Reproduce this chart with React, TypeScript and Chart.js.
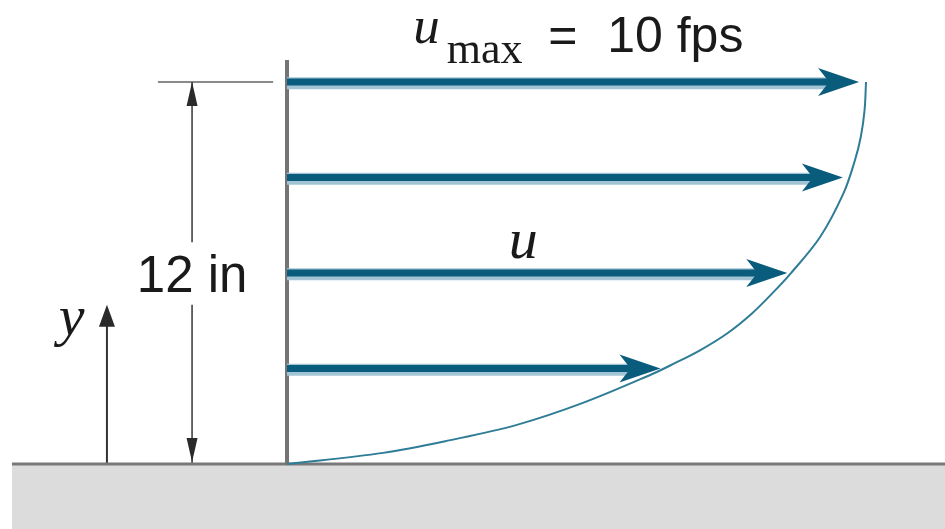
import React, { useEffect, useRef } from "react";
import { Chart, registerables } from "chart.js";

Chart.register(...registerables);

// Velocity profile u(y): height above the plate (in) and velocity (fps)
const PROFILE_Y = [0, 0.35, 0.75, 1.23, 1.92, 2.82, 3.16, 3.58, 4.1, 4.73, 5.36, 5.99, 7.14, 8.5, 9.55, 10.28, 11.12, 12];
const PROFILE_U = [0, 1.66, 2.82, 3.97, 5.11, 6.3, 6.69, 7.14, 7.6, 8.03, 8.38, 8.7, 9.21, 9.61, 9.81, 9.91, 9.975, 10];

// Velocity vectors drawn from the wall
const ARROW_Y = [3, 6, 9, 12];
const ARROW_U = [6.45, 8.64, 9.6, 9.88];

// Labels
const TITLE_SYMBOL = "u";
const TITLE_SUB = "max";
const TITLE_VALUE = "10 fps";
const DIM_LABEL = "12 in";
const PROFILE_LABEL = "u";
const Y_LABEL = "y";
const DEPTH = 12;

// View window (data units) and decoration placement (data units)
const VIEW = { uMin: -4.957, uMax: 11.364, yMin: -2.042, yMax: 14.578 };
const DECOR = {
  groundLeft: -4.75,
  wallTop: 12.69,
  dimU: -1.64,
  dimGapLow: 5.0,
  dimGapHigh: 6.97,
  dimLabelY: 5.4,
  extLeft: -2.23,
  extRight: -0.24,
  yArrowU: -3.11,
  yArrowTop: 5.0,
  yLabelU: -3.72,
  yLabelY: 4.05,
  uLabelU: 4.08,
  uLabelY: 6.47,
  titleU: 2.18,
  titleY: 13.23,
  subU: 2.76,
  subY: 12.6,
  eqU: 4.51,
  valU: 5.53,
  valY: 12.94,
};

const TEAL = "#0a5c7c";
const TEAL_LIGHT = "#a3c4d5";
const CURVE = "#2f7c96";

function head(
  ctx: CanvasRenderingContext2D,
  tx: number,
  ty: number,
  dx: number,
  dy: number,
  len: number,
  half: number,
  notch: number,
  color: string
) {
  const px = -dy;
  const py = dx;
  const bx = tx - dx * len;
  const by = ty - dy * len;
  ctx.beginPath();
  ctx.moveTo(tx, ty);
  ctx.lineTo(bx + px * half, by + py * half);
  ctx.lineTo(tx - dx * (len - notch), ty - dy * (len - notch));
  ctx.lineTo(bx - px * half, by - py * half);
  ctx.closePath();
  ctx.fillStyle = color;
  ctx.fill();
}

const decorPlugin = {
  id: "decor",
  beforeDatasetsDraw(chart: any) {
    const { ctx, chartArea, scales } = chart;
    const X = (v: number) => scales.x.getPixelForValue(v);
    const Y = (v: number) => scales.y.getPixelForValue(v);
    ctx.save();
    ctx.fillStyle = "#dcdcdc";
    const top = Y(0);
    const left = X(DECOR.groundLeft);
    ctx.fillRect(left, top, chartArea.right - left, chartArea.bottom - top);
    ctx.restore();
  },
  afterDatasetsDraw(chart: any) {
    const { ctx, scales } = chart;
    const X = (v: number) => scales.x.getPixelForValue(v);
    const Y = (v: number) => scales.y.getPixelForValue(v);
    ctx.save();
    // velocity arrowheads
    ARROW_Y.forEach((y, i) => {
      head(ctx, X(ARROW_U[i]), Y(y), 1, 0, 41, 14, 11, TEAL);
    });
    // dimension arrowheads
    head(ctx, X(DECOR.dimU), Y(DEPTH), 0, -1, 24, 5.5, 0, "#2a2a2a");
    head(ctx, X(DECOR.dimU), Y(0) - 2, 0, 1, 24, 5.5, 0, "#2a2a2a");
    head(ctx, X(DECOR.yArrowU), Y(DECOR.yArrowTop), 0, -1, 22, 8, 0, "#2a2a2a");

    // texts
    ctx.fillStyle = "#1a1a1a";
    ctx.textBaseline = "alphabetic";
    ctx.textAlign = "left";
    ctx.font = "italic 53px 'Liberation Serif', serif";
    ctx.fillText(TITLE_SYMBOL, X(DECOR.titleU), Y(DECOR.titleY));
    ctx.font = "44px 'Liberation Serif', serif";
    ctx.fillText(TITLE_SUB, X(DECOR.subU), Y(DECOR.subY));
    ctx.font = "50px 'Liberation Sans', Arial, sans-serif";
    ctx.fillText("=", X(DECOR.eqU), Y(DECOR.valY));
    ctx.fillText(TITLE_VALUE, X(DECOR.valU), Y(DECOR.valY));

    ctx.textAlign = "center";
    ctx.font = "51px 'Liberation Sans', Arial, sans-serif";
    ctx.fillText(DIM_LABEL, X(DECOR.dimU), Y(DECOR.dimLabelY));
    ctx.font = "italic 58px 'Liberation Serif', serif";
    ctx.fillText(PROFILE_LABEL, X(DECOR.uLabelU), Y(DECOR.uLabelY));
    ctx.fillText(Y_LABEL, X(DECOR.yLabelU), Y(DECOR.yLabelY));
    ctx.restore();
  },
};

function seg(data: { x: number; y: number }[], color: string, width: number, order: number) {
  return {
    data,
    showLine: true,
    borderColor: color,
    backgroundColor: color,
    borderWidth: width,
    pointRadius: 0,
    fill: false,
    tension: 0,
    order,
    borderCapStyle: "butt",
  };
}

export default function App() {
  const ref = useRef<HTMLCanvasElement | null>(null);

  useEffect(() => {
    if (!ref.current) return;
    const profile = PROFILE_U.map((u, i) => ({ x: u, y: PROFILE_Y[i] }));
    const datasets: any[] = [];
    datasets.push({ ...seg(profile, CURVE, 2, 0), tension: 0.35 });
    ARROW_Y.forEach((y, i) => {
      const pts = [
        { x: 0, y },
        { x: ARROW_U[i] - 0.45, y },
      ];
      datasets.push(seg(pts, TEAL, 7, 1));
      datasets.push(seg(pts.map((p) => ({ x: p.x, y: p.y - 0.04 })), TEAL_LIGHT, 12, 2));
    });
    datasets.push(seg([{ x: 0, y: 0 }, { x: 0, y: DECOR.wallTop }], "#747474", 4, 3));
    datasets.push(seg([{ x: DECOR.groundLeft, y: 0 }, { x: VIEW.uMax, y: 0 }], "#787878", 3, 4));
    datasets.push(seg([{ x: DECOR.dimU, y: DEPTH }, { x: DECOR.dimU, y: DECOR.dimGapHigh }], "#444444", 1.6, 5));
    datasets.push(seg([{ x: DECOR.dimU, y: DECOR.dimGapLow }, { x: DECOR.dimU, y: 0 }], "#444444", 1.6, 5));
    datasets.push(seg([{ x: DECOR.extLeft, y: DEPTH }, { x: DECOR.extRight, y: DEPTH }], "#8a8a8a", 2, 5));
    datasets.push(seg([{ x: DECOR.yArrowU, y: 0 }, { x: DECOR.yArrowU, y: DECOR.yArrowTop - 0.3 }], "#333333", 2, 5));

    const chart = new Chart(ref.current, {
      type: "scatter",
      data: { datasets },
      options: {
        animation: false,
        responsive: false,
        events: [],
        layout: { padding: 0 },
        plugins: { legend: { display: false }, tooltip: { enabled: false } },
        scales: {
          x: { type: "linear", min: VIEW.uMin, max: VIEW.uMax, display: false },
          y: { type: "linear", min: VIEW.yMin, max: VIEW.yMax, display: false },
        },
      },
      plugins: [decorPlugin],
    } as any);
    return () => chart.destroy();
  }, []);

  return (
    <div style={{ position: "absolute", left: 0, top: 0, width: 945, height: 529, background: "#fff" }}>
      <canvas ref={ref} width={945} height={529} style={{ display: "block", width: 945, height: 529 }} />
    </div>
  );
}
